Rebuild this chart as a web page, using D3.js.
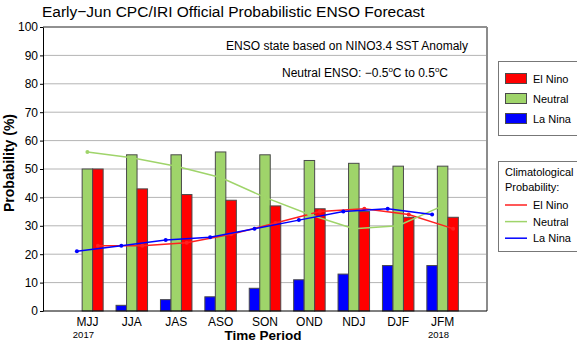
<!DOCTYPE html>
<html lang="en">
<head>
    <meta charset="UTF-8">
    <title>ENSO Forecast</title>
    <script src="https://d3js.org/d3.v7.min.js"></script>
    <style>
        body { margin: 0; background: white; }
        svg text { font-family: "Liberation Sans", Arial, sans-serif; fill: #000; }
    </style>
</head>
<body>
    <svg id="svg1" width="577" height="342" style="background: white"></svg>

    <script>
        // data ------------------------------------------------------------------
        const periods = ["MJJ", "JJA", "JAS", "ASO", "SON", "OND", "NDJ", "DJF", "JFM"];
        const elNino  = [50, 43, 41, 39, 37, 36, 35, 33, 33];
        const neutral = [50, 55, 55, 56, 55, 53, 52, 51, 51];
        const laNina  = [0, 2, 4, 5, 8, 11, 13, 16, 16];

        // climatological probability lines
        const climElNino  = [23, 23, 24, 27, 31, 35, 36, 34, 29];
        const climNeutral = [56, 54, 51, 47, 40, 34, 29, 30, 37];
        const climLaNina  = [21, 23, 25, 26, 29, 32, 35, 36, 34];

        const yTicks = [0, 10, 20, 30, 40, 50, 60, 70, 80, 90, 100];
        const yearLabels = [{i: 0, t: "2017"}, {i: 8, t: "2018"}];

        const barColor = {"La Nina": "#0000ff", "Neutral": "#9fd46a", "El Nino": "#ff0000"};
        const lineColor = {"La Nina": "#0000ff", "Neutral": "#9fd46a", "El Nino": "#ff2020"};

        // chart frame -----------------------------------------------------------
        const svg = d3.select("svg#svg1");
        const plot = {left: 43, right: 487, top: 27, bottom: 311};

        const xScale = d3.scaleLinear().domain([0, 10]).range([plot.left, plot.right]);
        const yScale = d3.scaleLinear().domain([0, 100]).range([plot.bottom, plot.top]);
        const inner = d3.scaleBand().domain(["La Nina", "Neutral", "El Nino"]).range([-15.75, 15.75]);

        // gridlines
        svg.append("g").selectAll("line")
            .data(yTicks.filter(d => d > 0 && d < 100))
            .join("line")
            .attr("x1", plot.left).attr("x2", plot.right)
            .attr("y1", d => yScale(d)).attr("y2", d => yScale(d))
            .attr("stroke", "#b4b4b4").attr("stroke-width", 1);

        // title
        svg.append("text")
            .text("Early\u2212Jun CPC/IRI Official Probabilistic ENSO Forecast")
            .attr("x", 42).attr("y", 17)
            .style("font-size", "15.5px");

        // annotation
        svg.append("text")
            .text("ENSO state based on NINO3.4 SST Anomaly")
            .attr("x", 468).attr("y", 50)
            .attr("text-anchor", "end")
            .style("font-size", "12px");

        const note = svg.append("text")
            .attr("x", 448).attr("y", 77)
            .attr("text-anchor", "end")
            .style("font-size", "12px");
        note.append("tspan").text("Neutral ENSO: \u22120.5");
        note.append("tspan").text("o").attr("dy", -5).style("font-size", "8px");
        note.append("tspan").text("C to 0.5").attr("dy", 5);
        note.append("tspan").text("o").attr("dy", -5).style("font-size", "8px");
        note.append("tspan").text("C").attr("dy", 5);

        // bars ------------------------------------------------------------------
        const barData = [];
        periods.forEach((p, i) => {
            barData.push({i: i, k: "La Nina", v: laNina[i]});
            barData.push({i: i, k: "Neutral", v: neutral[i]});
            barData.push({i: i, k: "El Nino", v: elNino[i]});
        });

        svg.append("g").selectAll("rect")
            .data(barData.filter(d => d.v > 0))
            .join("rect")
            .attr("x", d => xScale(d.i + 1) + inner(d.k))
            .attr("y", d => yScale(d.v))
            .attr("width", inner.bandwidth())
            .attr("height", d => yScale(0) - yScale(d.v))
            .attr("fill", d => barColor[d.k])
            .attr("stroke", "#4a4a4a").attr("stroke-width", 1);

        // climatology lines -----------------------------------------------------
        const climSeries = [
            {k: "El Nino", v: climElNino},
            {k: "Neutral", v: climNeutral},
            {k: "La Nina", v: climLaNina}
        ];

        const lineGen = d3.line()
            .x(d => d.x)
            .y(d => yScale(d.v));

        climSeries.forEach(s => {
            const pts = s.v.map((v, i) => ({x: xScale(i + 1) + inner(s.k) + inner.bandwidth() / 2, v: v}));
            svg.append("path")
                .datum(pts)
                .attr("d", lineGen)
                .attr("fill", "none")
                .attr("stroke", lineColor[s.k])
                .attr("stroke-width", 1.5);
            svg.append("g").selectAll("circle")
                .data(pts)
                .join("circle")
                .attr("cx", d => d.x).attr("cy", d => yScale(d.v))
                .attr("r", 2)
                .attr("fill", lineColor[s.k]);
        });

        // frame -----------------------------------------------------------------
        svg.append("line")
            .attr("x1", plot.left).attr("x2", plot.right)
            .attr("y1", plot.top).attr("y2", plot.top)
            .attr("stroke", "#222");
        svg.append("line")
            .attr("x1", plot.right).attr("x2", plot.right)
            .attr("y1", plot.top).attr("y2", plot.bottom)
            .attr("stroke", "#8c8c8c").attr("stroke-width", 2);

        // axes
        const axisY = d3.axisLeft(yScale).tickValues(yTicks).tickSize(3).tickPadding(2).tickSizeOuter(0);
        const gy = svg.append("g")
            .attr("transform", `translate(${plot.left}, 0)`)
            .call(axisY);
        gy.selectAll("text").style("font-size", "12px").style("font-family", "Liberation Sans, Arial, sans-serif");

        svg.append("line")
            .attr("x1", plot.left).attr("x2", plot.right)
            .attr("y1", plot.bottom).attr("y2", plot.bottom)
            .attr("stroke", "#000");

        svg.append("g").selectAll("text")
            .data(periods)
            .join("text")
            .text(d => d)
            .attr("x", (d, i) => xScale(i + 1))
            .attr("y", 326)
            .attr("text-anchor", "middle")
            .style("font-size", "12px");

        svg.append("g").selectAll("text")
            .data(yearLabels)
            .join("text")
            .text(d => d.t)
            .attr("x", d => xScale(d.i + 1) - 4)
            .attr("y", 338)
            .attr("text-anchor", "middle")
            .style("font-size", "9.5px");

        svg.append("text")
            .text("Time Period")
            .attr("x", 263).attr("y", 340)
            .attr("text-anchor", "middle")
            .style("font-size", "13.5px").style("font-weight", "bold");

        svg.append("text")
            .text("Probability (%)")
            .attr("transform", "translate(14, 163) rotate(-90)")
            .attr("text-anchor", "middle")
            .style("font-size", "14px").style("font-weight", "bold");

        // legends ---------------------------------------------------------------
        const leg1 = svg.append("g");
        leg1.append("rect")
            .attr("x", 498.5).attr("y", 61.5).attr("width", 80).attr("height", 74)
            .attr("fill", "white").attr("stroke", "#777");
        const legKeys = ["El Nino", "Neutral", "La Nina"];
        legKeys.forEach((k, j) => {
            leg1.append("rect")
                .attr("x", 505.5).attr("y", 73.5 + j * 20).attr("width", 21).attr("height", 10)
                .attr("fill", barColor[k]).attr("stroke", "#4a4a4a");
            leg1.append("text")
                .text(k)
                .attr("x", 533).attr("y", 82.5 + j * 20)
                .style("font-size", "11px");
        });

        const leg2 = svg.append("g");
        leg2.append("rect")
            .attr("x", 498.5).attr("y", 161.5).attr("width", 80).attr("height", 90)
            .attr("fill", "white").attr("stroke", "#777");
        leg2.append("text").text("Climatological")
            .attr("x", 505).attr("y", 175.5).style("font-size", "11px");
        leg2.append("text").text("Probability:")
            .attr("x", 505).attr("y", 190.5).style("font-size", "11px");
        legKeys.forEach((k, j) => {
            leg2.append("line")
                .attr("x1", 505).attr("x2", 527)
                .attr("y1", 205 + j * 16.6).attr("y2", 205 + j * 16.6)
                .attr("stroke", lineColor[k]).attr("stroke-width", 1.5);
            leg2.append("text")
                .text(k)
                .attr("x", 533).attr("y", 209 + j * 16.6)
                .style("font-size", "11px");
        });
    </script>
</body>
</html>
